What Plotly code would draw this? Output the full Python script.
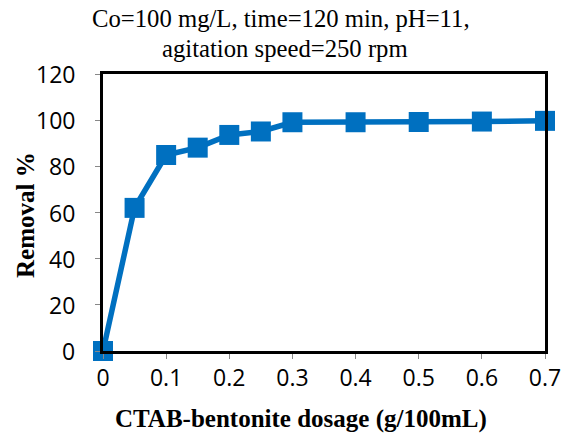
import plotly.graph_objects as go

# CTAB-bentonite dosage (g/100mL) and Cr removal (%)
dosage = [0, 0.05, 0.1, 0.15, 0.2, 0.25, 0.3, 0.4, 0.5, 0.6, 0.7]
removal = [0, 62.0, 84.9, 88.1, 93.6, 95.1, 99.1, 99.1, 99.2, 99.4, 99.7]

x_ticks = [0, 0.1, 0.2, 0.3, 0.4, 0.5, 0.6, 0.7]
x_tick_text = ["0", "0.1", "0.2", "0.3", "0.4", "0.5", "0.6", "0.7"]
y_ticks = [0, 20, 40, 60, 80, 100, 120]

blue = "#0070C0"
serif = "Liberation Serif"
sans = "Open Sans"

W, H = 563, 437
pl, pr, pt, pb = 103, 18, 74, 86
pw, ph = W - pl - pr, H - pt - pb

fig = go.Figure()
fig.add_trace(go.Scatter(
    x=dosage, y=removal,
    mode="lines+markers",
    line=dict(color=blue, width=5.5),
    marker=dict(symbol="square", size=20, color=blue),
    cliponaxis=False,
    showlegend=False,
))

axis_common = dict(
    showgrid=False, zeroline=False, automargin=False,
    ticks="outside", ticklen=5, tickcolor="#888888", tickwidth=1,
    showline=True, linecolor="black", linewidth=2.5, mirror=True,
    tickfont=dict(family=sans, size=23, color="black"),
)

annotations = [
    dict(text="Co=100 mg/L, time=120 min, pH=11,", x=281, y=18,
         font=dict(family=serif, size=24.7, color="black")),
    dict(text="agitation speed=250 rpm", x=285, y=48,
         font=dict(family=serif, size=24.7, color="black")),
    dict(text="<b>CTAB-bentonite dosage (g/100mL)</b>", x=301, y=419,
         font=dict(family=serif, size=25, color="black")),
    dict(text="<b>Removal %</b>", x=25, y=215, textangle=-90,
         font=dict(family=serif, size=25, color="black")),
]
# Titles are given in page pixels; convert to paper coordinates
for a in annotations:
    a.update(showarrow=False, xref="paper", yref="paper",
             xanchor="center", yanchor="middle",
             x=(a["x"] - pl) / pw, y=(H - pb - a["y"]) / ph)

# y tick labels, right-aligned a little away from the axis
for v in y_ticks:
    annotations.append(dict(
        text=str(v), x=(77 - pl) / pw, xref="paper", y=v, yref="y",
        xanchor="right", yanchor="middle", showarrow=False,
        font=dict(family=sans, size=23, color="black"),
    ))

fig.update_layout(
    width=W, height=H,
    margin=dict(l=pl, r=pr, t=pt, b=pb),
    paper_bgcolor="white", plot_bgcolor="white",
    xaxis=dict(range=[0, 0.7], tickvals=x_ticks, ticktext=x_tick_text,
               **axis_common),
    yaxis=dict(range=[0, 120], tickvals=y_ticks, showticklabels=False,
               **axis_common),
    annotations=annotations,
)

fig.write_html("out.html")
